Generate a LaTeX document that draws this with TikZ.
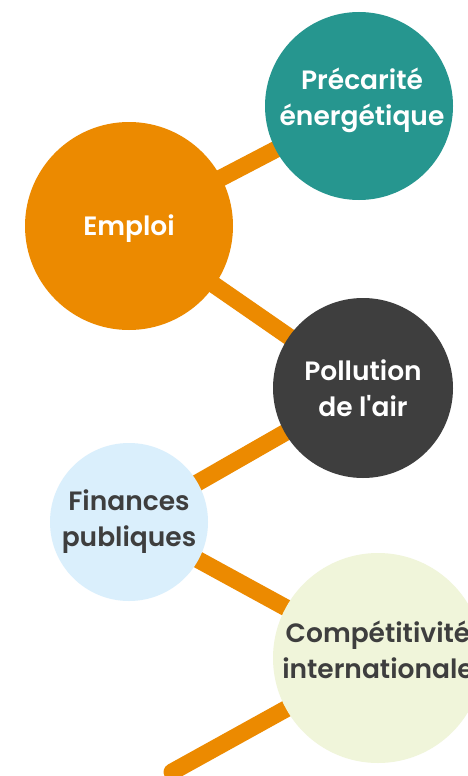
\documentclass[tikz,border=0pt]{standalone}
\usepackage{fontspec}
\setmainfont{Poppins}[Ligatures=TeXOff, BoldFont={Poppins SemiBold}]
\definecolor{corange}{HTML}{EC8A00}
\definecolor{cteal}{HTML}{26968F}
\definecolor{cdark}{HTML}{3E3E3E}
\definecolor{cblue}{HTML}{DAEFFC}
\definecolor{cgreen}{HTML}{F0F5DA}
\definecolor{ctext}{HTML}{3E3E3E}
\tikzset{
  bubble/.style={circle, inner sep=0pt, minimum size=#1},
  link/.style={draw=corange, line width=17pt, line cap=round},
  lbl/.style={align=center, inner sep=0pt, font=\bfseries\fontsize{26.5}{36}\selectfont},
}
\begin{document}
\begin{tikzpicture}[x=1pt,y=-1pt]
\useasboundingbox (0,0) rectangle (468,776);
\clip (0,0) rectangle (468,776);
\fill[white] (0,0) rectangle (468,776);
% circle positions
\coordinate (cP) at (359,106);
\coordinate (cE) at (129,226);
\coordinate (cA) at (363,388);
\coordinate (cF) at (129,522);
\coordinate (cC) at (378,658);
\coordinate (endB) at (172,772);
% connectors
\draw[link] (cE) -- (cP);
\draw[link] (cE) -- (cA);
\draw[link] (cA) -- (cF);
\draw[link] (cF) -- (cC);
\draw[link] (cC) -- (endB);
% circles
\node[bubble=188pt, fill=cteal] (P) at (cP) {};
\node[bubble=208pt, fill=corange] (E) at (cE) {};
\node[bubble=180pt, fill=cdark] (A) at (cA) {};
\node[bubble=158pt, fill=cblue] (F) at (cF) {};
\node[bubble=210pt, fill=cgreen] (C) at (cC) {};
% labels
\node[lbl, text=white] (tP) at (362,100) {Précarité\\énergétique};
\node[lbl, text=white] (tE) at (129,229) {Emploi};
\node[lbl, text=white] (tA) at (363,388) {Pollution\\de l'air};
\node[lbl, text=ctext] (tF) at (129,522) {Finances\\publiques};
\node[lbl, text=ctext] (tC) at (378,650) {Compétitivité\\internationale};
\end{tikzpicture}
\end{document}
